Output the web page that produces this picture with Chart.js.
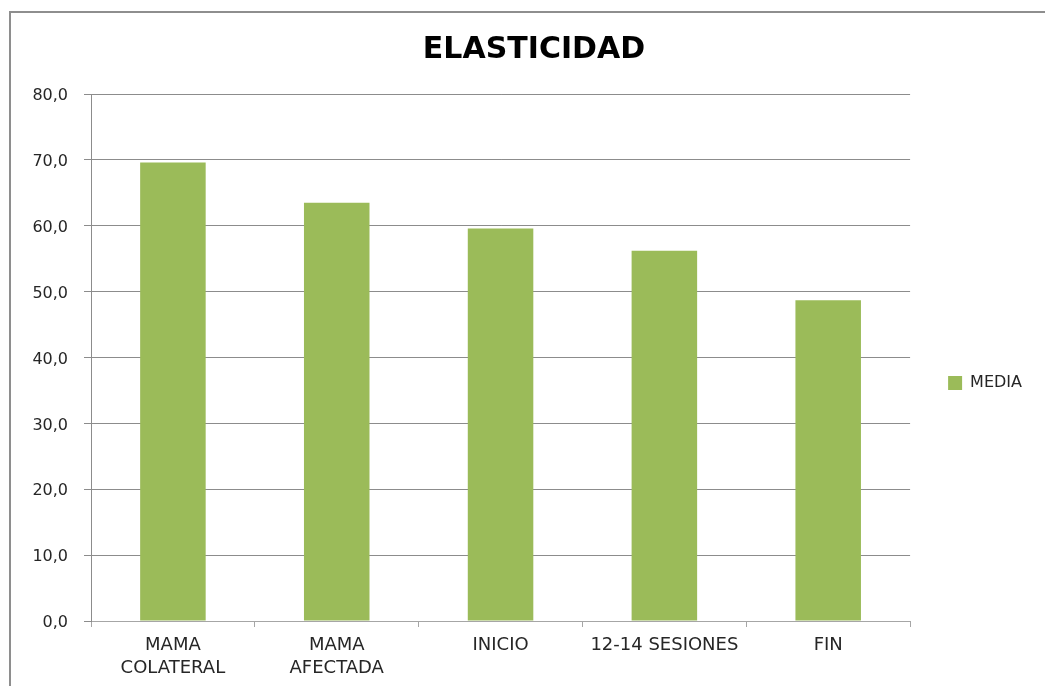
<!DOCTYPE html>
<html>
<head>
<meta charset="utf-8">
<script src="https://cdn.jsdelivr.net/npm/chart.js@4"></script>
<style>
  html, body { margin: 0; padding: 0; background: #fff; overflow: hidden; }
  #frame { position: absolute; left: 9px; top: 11px; width: 1100px; height: 700px;
           border-left: 2px solid #8e8e8e; border-top: 2px solid #8e8e8e; }
  #wrap { position: absolute; left: 0; top: 0; width: 1045px; height: 686px; }
</style>
</head>
<body>
<div id="frame"></div>
<div id="wrap"><canvas id="chart"></canvas></div>
<script>
// datos de la gráfica
const categories = [['MAMA', 'COLATERAL'], ['MAMA', 'AFECTADA'], 'INICIO', '12-14 SESIONES', 'FIN'];
const media = [69.6, 63.5, 59.6, 56.2, 48.7];
const yTicks = [0, 10, 20, 30, 40, 50, 60, 70, 80];

const textColor = '#262626';
const padL = 22;
const padR = 13;

// small nudge so title and legend sit where the original puts them
const nudge = {
  id: 'nudge',
  afterLayout(chart) {
    chart.titleBlock.left += 14;
    chart.legend.top += 80;
  },
};

new Chart(document.getElementById('chart'), {
  type: 'bar',
  data: {
    labels: categories,
    datasets: [{
      label: 'MEDIA',
      data: media,
      backgroundColor: '#9BBB59',
      borderWidth: 0,
      barPercentage: 0.4,
      categoryPercentage: 1,
    }],
  },
  plugins: [nudge],
  options: {
    responsive: true,
    maintainAspectRatio: false,
    animation: false,
    layout: { padding: { left: padL, right: padR, top: 0, bottom: 0 } },
    plugins: {
      title: {
        display: true,
        text: 'ELASTICIDAD',
        color: '#000',
        font: { family: 'DejaVu Sans', size: 30, weight: 'bold' },
        padding: { top: 32, bottom: 26 },
      },
      legend: {
        position: 'right',
        maxWidth: 135,
        labels: {
          boxWidth: 14,
          boxHeight: 14,
          padding: 38,
          color: textColor,
          font: { family: 'DejaVu Sans', size: 16 },
        },
      },
      tooltip: { enabled: false },
    },
    scales: {
      x: {
        grid: { offset: true, drawOnChartArea: false, drawTicks: true, tickLength: 6, color: '#a6a6a6' },
        border: { color: '#a6a6a6' },
        ticks: {
          color: textColor,
          padding: 7,
          maxRotation: 0,
          autoSkip: false,
          font: { family: 'DejaVu Sans', size: 18, lineHeight: 1.28 },
        },
        afterFit: (scale) => { scale.height = 686 - 621; },
      },
      y: {
        min: 0,
        max: 80,
        afterBuildTicks: (scale) => { scale.ticks = yTicks.map(v => ({ value: v })); },
        grid: { color: '#8c8c8c', tickLength: 7 },
        border: { color: '#8c8c8c' },
        ticks: {
          color: textColor,
          padding: 16,
          labelOffset: 2,
          font: { family: 'DejaVu Sans', size: 16 },
          callback: (v) => v.toFixed(1).replace('.', ','),
        },
        afterFit: (scale) => { scale.width = 91 - padL; },
      },
    },
  },
});
</script>
</body>
</html>
